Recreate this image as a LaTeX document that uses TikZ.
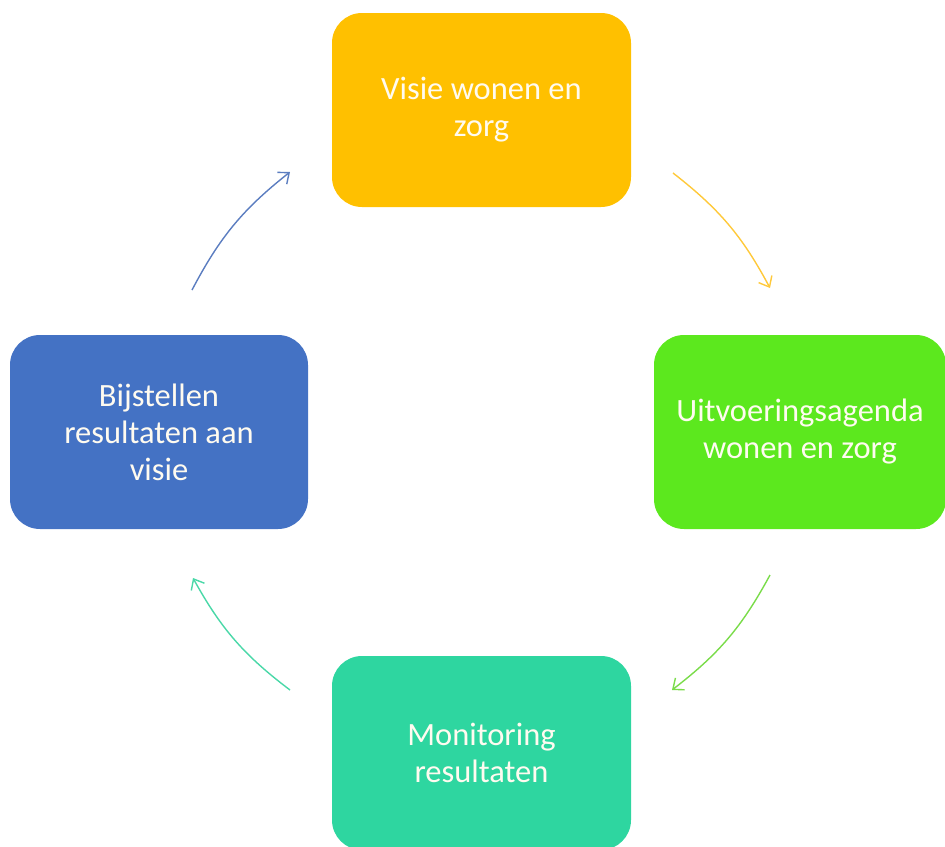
\documentclass[tikz,border=0pt]{standalone}
\usepackage{fontspec}
\setmainfont{Carlito}
\usetikzlibrary{arrows.meta}
\definecolor{cyel}{HTML}{FFC000}
\definecolor{cgrn}{HTML}{5CE81E}
\definecolor{cblu}{HTML}{4472C4}
\definecolor{ctea}{HTML}{2ED6A0}
\definecolor{ayel}{HTML}{FFC93A}
\definecolor{agrn}{HTML}{7ADC4A}
\definecolor{ablu}{HTML}{5B7DC0}
\definecolor{atea}{HTML}{4AD8A8}
\definecolor{txt}{HTML}{FFFBF0}
\begin{document}
\begin{tikzpicture}[x=1pt,y=-1pt,
  box/.style={rounded corners=30pt, minimum width=299pt, minimum height=194pt, inner sep=0pt,
    text=txt, align=center, font=\fontsize{32.5}{37}\selectfont},
  cyc/.style={line width=1.4pt, -{Straight Barb[length=9pt,width=15pt,line width=1.4pt]}}]
\useasboundingbox (0,0) rectangle (945,846);
\node[box, fill=cyel] (top) at (481.5,110) {Visie wonen en\\zorg};
\node[box, fill=cgrn, minimum width=292pt] (right) at (800,432) {Uitvoeringsagenda\\wonen en zorg};
\node[box, fill=cblu, minimum width=298pt] (left) at (159,432) {Bijstellen\\resultaten aan\\visie};
\node[box, fill=ctea] (bottom) at (481.5,753) {Monitoring\\resultaten};
\coordinate (a1) at (673,173); \coordinate (a2) at (770,288);
\coordinate (b1) at (770,575); \coordinate (b2) at (672,690);
\coordinate (c1) at (290,690); \coordinate (c2) at (193,578);
\coordinate (d1) at (192,290); \coordinate (d2) at (290,172);
\draw[cyc, ayel] (a1) to[bend left=12] (a2);
\draw[cyc, agrn] (b1) to[bend left=12] (b2);
\draw[cyc, atea] (c1) to[bend left=12] (c2);
\draw[cyc, ablu] (d1) to[bend left=12] (d2);
\end{tikzpicture}
\end{document}
